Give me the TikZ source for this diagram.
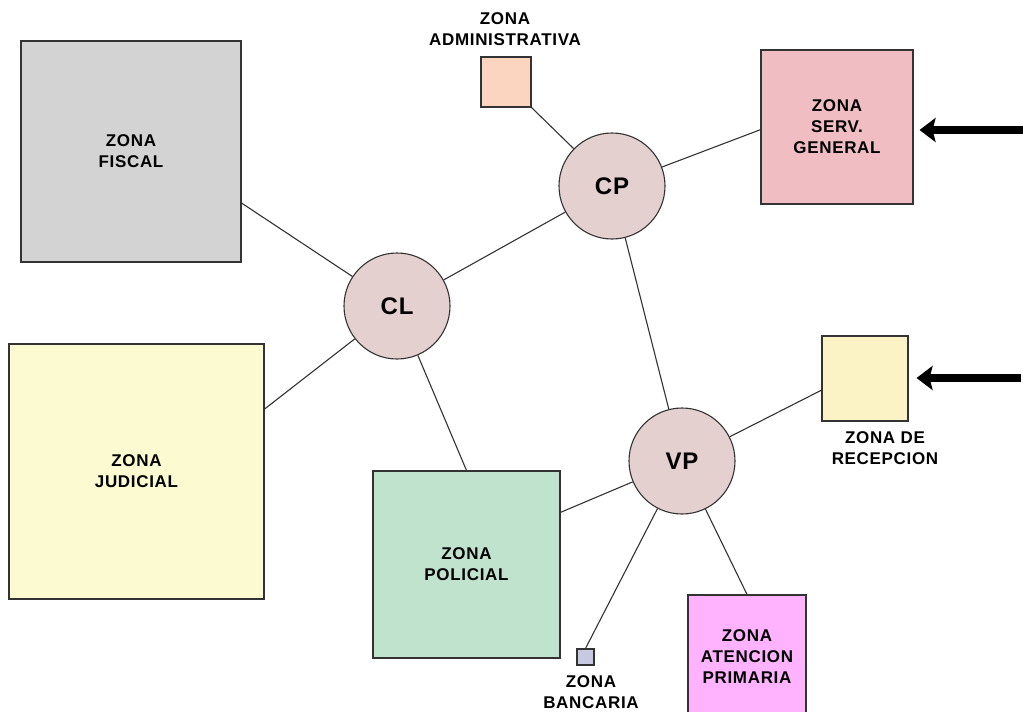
\documentclass[tikz,border=0pt]{standalone}
\usepackage{fontspec}
\setmainfont{Liberation Sans}[LetterSpace=4]
\usetikzlibrary{arrows.meta}
\definecolor{cfiscal}{HTML}{D3D3D3}
\definecolor{cjud}{HTML}{FBFAD0}
\definecolor{cpol}{HTML}{BFE3CC}
\definecolor{cadm}{HTML}{FCD5C0}
\definecolor{cserv}{HTML}{F0BEC2}
\definecolor{crec}{HTML}{FBF3C6}
\definecolor{cbank}{HTML}{C7C9E0}
\definecolor{caten}{HTML}{FFB3FF}
\definecolor{ccirc}{HTML}{E5D0D0}
\definecolor{cline}{HTML}{333333}
\begin{document}
\begin{tikzpicture}[x=1pt,y=-1pt,
  zone/.style={draw=cline,line width=1.1pt,rectangle,inner sep=0pt,align=center,
    font=\bfseries\fontsize{17}{21}\selectfont},
  lbl/.style={align=center,inner sep=0pt,font=\bfseries\fontsize{17}{21}\selectfont},
  hub/.style={circle,draw=cline,line width=1.1pt,fill=ccirc,minimum size=106pt,inner sep=0pt,
    font=\bfseries\fontsize{24}{26}\selectfont},
  link/.style={draw=cline,line width=1.1pt},
  bigarrow/.style={line width=7.5pt,-{Stealth[length=16pt,width=24pt,inset=3pt]}}
]
\useasboundingbox (0,0) rectangle (1023,712);
\clip (0,0) rectangle (1023,712);
% zones
\node[zone,fill=cfiscal,minimum width=220pt,minimum height=221pt] (fiscal) at (131,151.5) {ZONA\\FISCAL};
\node[zone,fill=cjud,minimum width=255pt,minimum height=255pt] (judicial) at (136.5,471.5) {ZONA\\JUDICIAL};
\node[zone,fill=cpol,minimum width=187pt,minimum height=187pt] (policial) at (466.5,564.5) {ZONA\\POLICIAL};
\node[zone,fill=cadm,minimum width=50pt,minimum height=50pt] (admin) at (506,82) {};
\node[lbl] (adminl) at (505,29) {ZONA\\ADMINISTRATIVA};
\node[zone,fill=cserv,minimum width=152pt,minimum height=154pt] (serv) at (837,127) {ZONA\\SERV.\\GENERAL};
\node[zone,fill=crec,minimum width=86pt,minimum height=85pt] (recep) at (865,378.5) {};
\node[lbl] (recepl) at (885,448) {ZONA DE\\RECEPCION};
\node[zone,fill=cbank,minimum width=17pt,minimum height=16pt] (bank) at (585.5,657) {};
\node[lbl] (bankl) at (591,692) {ZONA\\BANCARIA};
\node[zone,fill=caten,minimum width=118pt,minimum height=124pt] (aten) at (747,657) {ZONA\\ATENCION\\PRIMARIA};
% hubs
\node[hub] (cp) at (612,186) {CP};
\node[hub] (cl) at (397,306) {CL};
\node[hub] (vp) at (682,461) {VP};
% links
\draw[link] (fiscal.-25) -- (cl);
\draw[link] (judicial.26) -- (cl);
\draw[link] (policial.north) -- (cl);
\draw[link] (cl) -- (cp);
\draw[link] (admin.south east) -- (cp);
\draw[link] (serv.182) -- (cp);
\draw[link] (cp) -- (vp);
\draw[link] (policial.29) -- (vp);
\draw[link] (recep.195) -- (vp);
\draw[link] (bank.north) -- (vp);
\draw[link] (aten.north) -- (vp);
% arrows
\coordinate (a1) at (1023,130);
\coordinate (a2) at (1021,378);
\draw[bigarrow,shorten >=6pt] (a1) -- (serv.east |- a1);
\draw[bigarrow,shorten >=8pt] (a2) -- (recep.east |- a2);
\end{tikzpicture}
\end{document}
